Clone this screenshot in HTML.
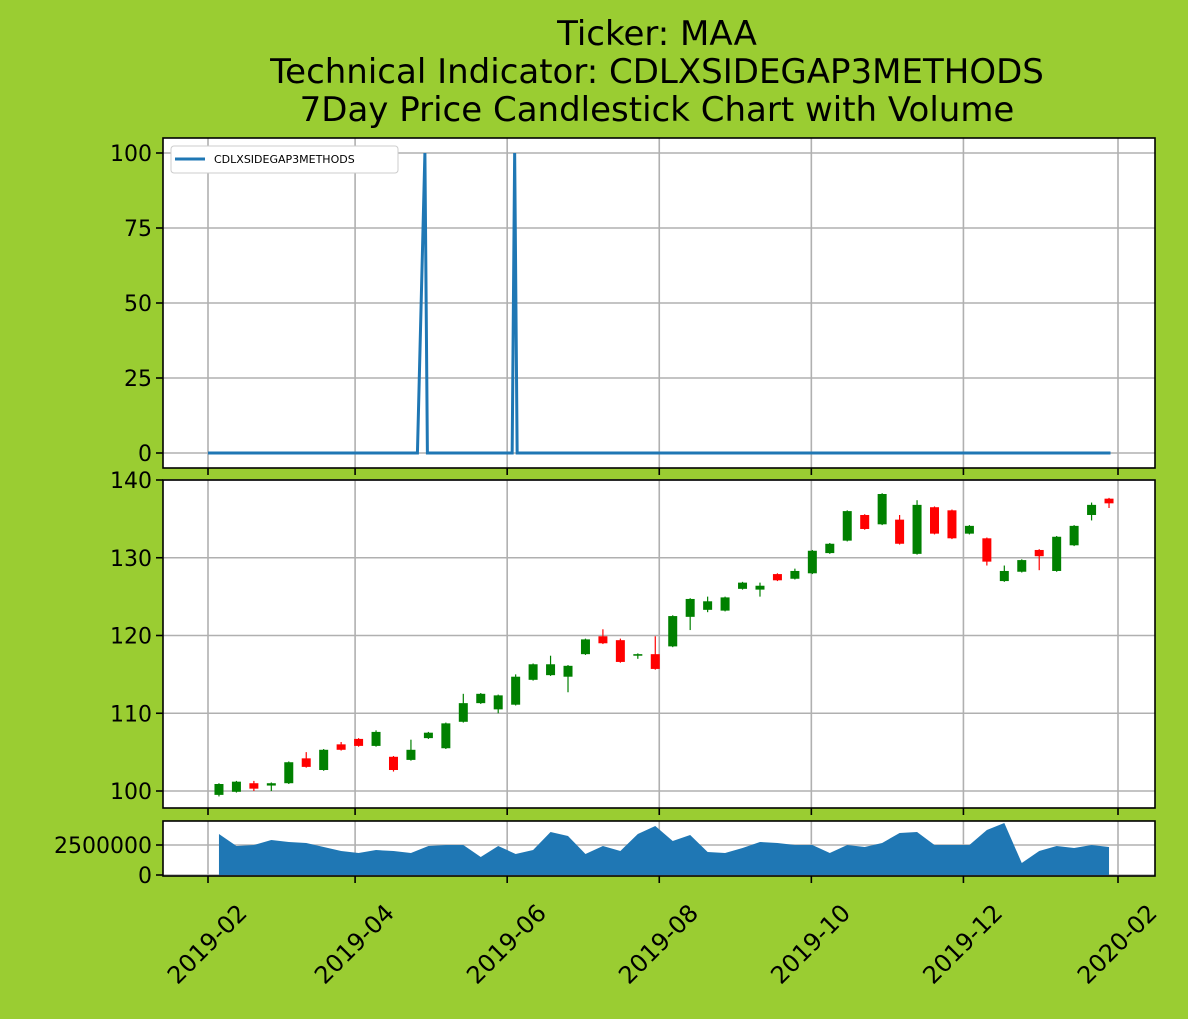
<!DOCTYPE html>
<html><head><meta charset="utf-8"><style>
html,body{margin:0;padding:0;background:#9ACD32;}
svg{display:block;font-family:"DejaVu Sans","Liberation Sans",sans-serif;}
</style></head><body>
<svg id="chart" width="1188" height="1019" xmlns="http://www.w3.org/2000/svg">
<rect width="1188" height="1019" fill="#9ACD32"/>
<g font-size="34" text-anchor="middle" fill="#000">
<text x="657" y="45">Ticker: MAA</text>
<text x="657" y="83">Technical Indicator: CDLXSIDEGAP3METHODS</text>
<text x="657" y="121">7Day Price Candlestick Chart with Volume</text>
</g>
<g id="ind"></g>
<g id="price"></g>
<g id="vol"></g>
<g id="xaxis"></g>
</svg>
<script>
// day offsets from 2019-02-01
const candleStart = 4.4;
const opens  = [99.5,99.9,101.0,100.7,101.0,104.2,102.7,106.0,106.7,105.8,104.4,104.0,106.8,105.5,108.9,111.3,110.5,111.1,114.3,114.9,114.7,117.6,119.9,119.4,117.4,117.6,118.6,122.4,123.3,123.2,126.0,125.9,127.9,127.3,128.0,130.6,132.2,135.5,134.3,134.9,130.5,136.5,136.1,133.1,132.5,127.0,128.2,131.0,128.3,131.6,135.5,137.6];
const closes = [100.9,101.2,100.3,101.0,103.7,103.1,105.3,105.3,105.8,107.6,102.7,105.3,107.5,108.7,111.3,112.5,112.3,114.7,116.3,116.3,116.1,119.5,119.0,116.6,117.6,115.7,122.5,124.7,124.4,124.9,126.8,126.4,127.1,128.3,130.9,131.8,136.0,133.7,138.2,131.8,136.8,133.1,132.5,134.1,129.5,128.3,129.7,130.2,132.7,134.1,136.8,137.0];
const highs  = [101.0,101.3,101.3,101.1,103.8,105.0,105.4,106.3,106.8,107.8,104.5,106.6,107.6,108.8,112.5,112.6,112.4,115.0,116.4,117.4,116.2,119.6,120.8,119.6,117.7,119.9,122.6,124.8,125.0,125.0,126.9,126.8,128.0,128.6,131.0,131.9,136.1,135.6,138.3,135.5,137.4,136.6,136.2,134.2,132.6,129.0,129.8,131.1,132.8,134.2,137.1,137.7];
const lows   = [99.3,99.8,100.0,100.0,100.9,103.0,102.6,105.2,105.7,105.7,102.5,103.9,106.7,105.4,108.8,111.2,110.0,111.0,114.2,114.8,112.7,117.5,118.9,116.5,117.0,115.6,118.5,120.7,123.0,123.1,125.9,125.0,127.0,127.2,127.9,130.5,132.1,133.6,134.2,131.7,130.4,133.0,132.4,133.0,129.0,126.9,128.1,128.4,128.2,131.5,134.8,136.4];
const volumes = [3.42,2.42,2.50,2.92,2.75,2.67,2.33,2.00,1.83,2.08,2.00,1.83,2.42,2.50,2.50,1.50,2.42,1.75,2.08,3.58,3.25,1.75,2.42,2.00,3.42,4.08,2.83,3.33,1.92,1.83,2.25,2.75,2.67,2.50,2.50,1.83,2.50,2.33,2.67,3.50,3.58,2.50,2.50,2.50,3.75,4.33,1.00,2.00,2.42,2.25,2.50,2.33];
const indDays = [0,84,87,88,122,123,124,362];
const indValues = [0,0,100,0,0,100,0,0];
const xTickLabels = ["2019-02","2019-04","2019-06","2019-08","2019-10","2019-12","2020-02"];
const xTickDays = [0,59,120,181,242,303,365];
const indTicks = [0,25,50,75,100];
const priceTicks = [100,110,120,130,140];
const volTicks = [0,2500000];

const NS="http://www.w3.org/2000/svg";
const L=163,R=1155;
const xS=d=>208+d*(910/365);
const yInd=v=>453-v*3;
const yPr=v=>791-(v-100)*7.775;
const yVol=v=>875-v*12;
function mk(p,t,a){const e=document.createElementNS(NS,t);for(const k in a)e.setAttribute(k,a[k]);p.appendChild(e);return e;}
function panel(g,top,bot){
  mk(g,'rect',{x:L,y:top,width:R-L,height:bot-top,fill:'#fff'});
  xTickDays.forEach(d=>{const gl=mk(g,'line',{x1:xS(d),x2:xS(d),y1:top,y2:bot,stroke:'#b0b0b0','stroke-width':1.6});
    
    
    mk(g,'line',{x1:xS(d),x2:xS(d),y1:bot,y2:bot+7,stroke:'#000','stroke-width':1.6});});
}
function frame(g,top,bot){const f=mk(g,'rect',{x:L,y:top,width:R-L,height:bot-top,fill:'none',stroke:'#000','stroke-width':1.6});
  
  }
function yTicks(g,ticks,fy,fmt){
  ticks.forEach(t=>{const y=fy(t);
    const gl=mk(g,'line',{x1:L,x2:R,y1:y,y2:y,stroke:'#b0b0b0','stroke-width':1.6});
    
    
    mk(g,'line',{x1:L-7,x2:L,y1:y,y2:y,stroke:'#000','stroke-width':1.6});
    const tx=mk(g,'text',{x:L-11,y:y+8,'text-anchor':'end','font-size':22});tx.textContent=fmt(t);
    
    });
}
// indicator
const gi=document.getElementById('ind');
panel(gi,138,468);yTicks(gi,indTicks,yInd,String);
const pts=indDays.map((d,i)=>xS(d)+','+yInd(indValues[i])).join(' ');
const ln=mk(gi,'polyline',{points:pts,fill:'none',stroke:'#1f77b4','stroke-width':3});


frame(gi,138,468);
const lg=mk(gi,'g',{});


mk(lg,'rect',{x:171,y:146,width:227,height:27,rx:3,fill:'#fff',stroke:'#ccc'});
mk(lg,'line',{x1:175,x2:205,y1:159,y2:159,stroke:'#1f77b4','stroke-width':3});
const lt=mk(lg,'text',{x:214,y:163,'font-size':11});lt.textContent='CDLXSIDEGAP3METHODS';
// price
const gp=document.getElementById('price');
panel(gp,480,808);yTicks(gp,priceTicks,yPr,String);
opens.forEach((o,i)=>{const c=closes[i];const x=xS(candleStart+7*i);const col=c>=o?'#008000':'#ff0000';
  const w=mk(gp,'line',{x1:x,x2:x,y1:yPr(highs[i]),y2:yPr(lows[i]),stroke:col,'stroke-width':1.2});
  
  
  const top=yPr(Math.max(o,c)),h=Math.max(1.5,yPr(Math.min(o,c))-top);
  const b=mk(gp,'rect',{x:x-4.5,y:top,width:9,height:h,fill:col});
  
  });
frame(gp,480,808);
// volume
const gv=document.getElementById('vol');
panel(gv,821,876);yTicks(gv,volTicks,v=>yVol(v/1e6),String);
let ap='M'+xS(candleStart)+','+yVol(0);
volumes.forEach((v,i)=>{ap+=' L'+xS(candleStart+7*i)+','+yVol(v);});
ap+=' L'+xS(candleStart+7*(volumes.length-1))+','+yVol(0)+'Z';
const ar=mk(gv,'path',{d:ap,fill:'#1f77b4'});


frame(gv,821,876);
// x labels
const gx=document.getElementById('xaxis');
xTickDays.forEach((d,i)=>{const x=xS(d)+28,y=902;
  const t=mk(gx,'text',{x:x,y:y,'text-anchor':'end','font-size':24,transform:`rotate(-45 ${x} ${y})`,'dominant-baseline':'hanging'});
  t.textContent=xTickLabels[i];
  
  });
</script>
</body></html>
